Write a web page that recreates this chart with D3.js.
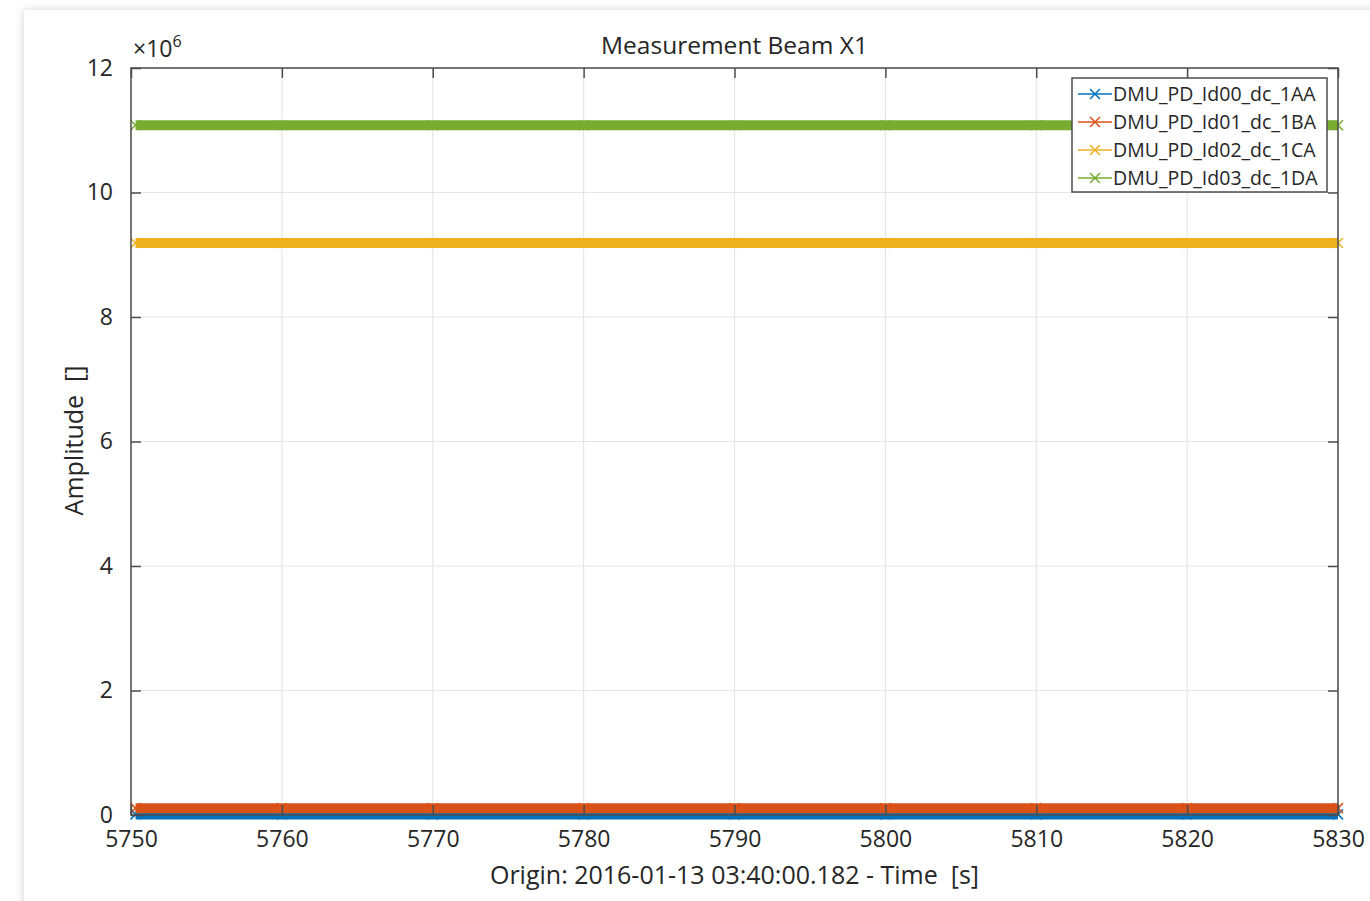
<!DOCTYPE html>
<html>
<head>
<meta charset="utf-8">
<script src="https://cdn.jsdelivr.net/npm/d3@7"></script>
<style>
  body { margin: 0; background: #ffffff; }
  svg { display: block; }
  text { font-family: "Open Sans", Lato, sans-serif; fill: #262626; white-space: pre; }
</style>
</head>
<body>
<svg id="chart" width="1370" height="901"></svg>
<script>
// Chart data
var seriesNames = ["DMU_PD_Id00_dc_1AA", "DMU_PD_Id01_dc_1BA", "DMU_PD_Id02_dc_1CA", "DMU_PD_Id03_dc_1DA"];
var seriesColors = ["#0072BD", "#D95319", "#EDB120", "#77AC30"];
var times = [5750.3, 5760, 5770, 5780, 5790, 5800, 5810, 5820, 5830];
var valuesId00 = [0.01e6, 0.01e6, 0.01e6, 0.01e6, 0.01e6, 0.01e6, 0.01e6, 0.01e6, 0.01e6];
var valuesId01 = [0.11e6, 0.11e6, 0.11e6, 0.11e6, 0.11e6, 0.11e6, 0.11e6, 0.11e6, 0.11e6];
var valuesId02 = [9.19e6, 9.19e6, 9.19e6, 9.19e6, 9.19e6, 9.19e6, 9.19e6, 9.19e6, 9.19e6];
var valuesId03 = [11.08e6, 11.08e6, 11.08e6, 11.08e6, 11.08e6, 11.08e6, 11.08e6, 11.08e6, 11.08e6];
var xTicks = [5750, 5760, 5770, 5780, 5790, 5800, 5810, 5820, 5830];
var yTicks = [0, 2e6, 4e6, 6e6, 8e6, 10e6, 12e6];

var allValues = [valuesId00, valuesId01, valuesId02, valuesId03];

// plot box (pas "top" : window.top est en lecture seule)
var plotLeft = 131, plotTop = 68, plotW = 1207, plotH = 747;
var svg = d3.select("#chart");

// card with soft shadow
var defs = svg.append("defs");
var flt = defs.append("filter").attr("id", "shadow").attr("x", "-5%").attr("y", "-5%").attr("width", "110%").attr("height", "110%");
flt.append("feDropShadow").attr("dx", 0).attr("dy", 0).attr("stdDeviation", 4).attr("flood-color", "#000").attr("flood-opacity", 0.18);
svg.append("rect").attr("x", 24).attr("y", 10).attr("width", 1400).attr("height", 950)
  .attr("fill", "#fff").attr("filter", "url(#shadow)");

var xScale = d3.scaleLinear().domain([5750, 5830]).range([plotLeft, plotLeft + plotW]);
var yScale = d3.scaleLinear().domain([0, 12e6]).range([plotTop + plotH, plotTop]);

var g = svg.append("g");

// grid
g.selectAll(".gx").data(xTicks).enter().append("line")
  .attr("x1", function(d) { return xScale(d); }).attr("x2", function(d) { return xScale(d); })
  .attr("y1", plotTop).attr("y2", plotTop + plotH)
  .attr("stroke", "#e6e6e6").attr("stroke-width", 1.2);
g.selectAll(".gy").data(yTicks).enter().append("line")
  .attr("x1", plotLeft).attr("x2", plotLeft + plotW)
  .attr("y1", function(d) { return yScale(d); }).attr("y2", function(d) { return yScale(d); })
  .attr("stroke", "#e6e6e6").attr("stroke-width", 1.2);

// series: dense x markers give a thick band
var clip = defs.append("clipPath").attr("id", "plotclip");
clip.append("rect").attr("x", plotLeft - 8).attr("y", plotTop).attr("width", plotW + 16).attr("height", plotH + 8);

var line = d3.line().x(function(d) { return xScale(d[0]); }).y(function(d) { return yScale(d[1]); });
var series = g.append("g").attr("clip-path", "url(#plotclip)");
allValues.forEach(function(vals, i) {
  var pts = times.map(function(t, k) { return [t, vals[k]]; });
  series.append("path").datum(pts).attr("d", line)
    .attr("fill", "none").attr("stroke", seriesColors[i]).attr("stroke-width", 10);
  var m = 5;
  series.selectAll(".m" + i).data(pts).enter().append("path")
    .attr("d", function(d) {
      var x = xScale(d[0]), y = yScale(d[1]);
      return "M" + (x - m) + "," + (y - m) + "L" + (x + m) + "," + (y + m) +
             "M" + (x - m) + "," + (y + m) + "L" + (x + m) + "," + (y - m);
    })
    .attr("stroke", seriesColors[i]).attr("stroke-width", 1.5);
});

// axes box
var axisColor = "#4d4d4d";
g.append("rect").attr("x", plotLeft).attr("y", plotTop).attr("width", plotW).attr("height", plotH)
  .attr("fill", "none").attr("stroke", axisColor).attr("stroke-width", 1.5);

var xAxisB = d3.axisBottom(xScale).tickValues(xTicks).tickSize(-10).tickPadding(16).tickFormat(d3.format("d"));
var xAxisT = d3.axisTop(xScale).tickValues(xTicks).tickSize(-10).tickFormat("");
var yAxisL = d3.axisLeft(yScale).tickValues(yTicks).tickSize(-10).tickPadding(18).tickFormat(function(d) { return d / 1e6; });
var yAxisR = d3.axisRight(yScale).tickValues(yTicks).tickSize(-10).tickFormat("");

function styleAxis(sel) {
  sel.select(".domain").remove();
  sel.selectAll("line").attr("stroke", axisColor).attr("stroke-width", 1.5);
  sel.selectAll("text").style("font-size", "23px").attr("fill", "#262626");
}
g.append("g").attr("transform", "translate(0," + (plotTop + plotH) + ")").call(xAxisB).call(styleAxis);
g.append("g").attr("transform", "translate(0," + plotTop + ")").call(xAxisT).call(styleAxis);
g.append("g").attr("transform", "translate(" + plotLeft + ",0)").call(yAxisL).call(styleAxis);
g.append("g").attr("transform", "translate(" + (plotLeft + plotW) + ",0)").call(yAxisR).call(styleAxis);

// exponent
var expo = svg.append("text").attr("x", 133).attr("y", 57).style("font-size", "23px");
expo.append("tspan").text("\u00d710");
expo.append("tspan").attr("dy", -10).style("font-size", "16px").text("6");

// title and labels
svg.append("text").attr("x", plotLeft + plotW / 2).attr("y", 54).attr("text-anchor", "middle")
  .style("font-size", "24.5px").text("Measurement Beam X1");
svg.append("text").attr("x", plotLeft + plotW / 2).attr("y", 884).attr("text-anchor", "middle")
  .style("font-size", "25px").text("Origin: 2016-01-13 03:40:00.182 - Time  [s]");
svg.append("text").attr("transform", "translate(83," + (plotTop + plotH / 2 - 1) + ") rotate(-90)")
  .attr("text-anchor", "middle").style("font-size", "25px").text("Amplitude  []");

// legend
var lg = svg.append("g").attr("transform", "translate(1072,78)");
lg.append("rect").attr("width", 255).attr("height", 114).attr("fill", "#fff")
  .attr("stroke", axisColor).attr("stroke-width", 1.5);
seriesNames.forEach(function(name, i) {
  var y = 16 + i * 28;
  lg.append("line").attr("x1", 6).attr("x2", 40).attr("y1", y).attr("y2", y)
    .attr("stroke", seriesColors[i]).attr("stroke-width", 1.5);
  lg.append("path").attr("d", "M18," + (y - 5) + "L28," + (y + 5) + "M18," + (y + 5) + "L28," + (y - 5))
    .attr("stroke", seriesColors[i]).attr("stroke-width", 1.5);
  lg.append("text").attr("x", 41).attr("y", y + 7).style("font-size", "19.5px").text(name);
});
</script>
</body>
</html>
